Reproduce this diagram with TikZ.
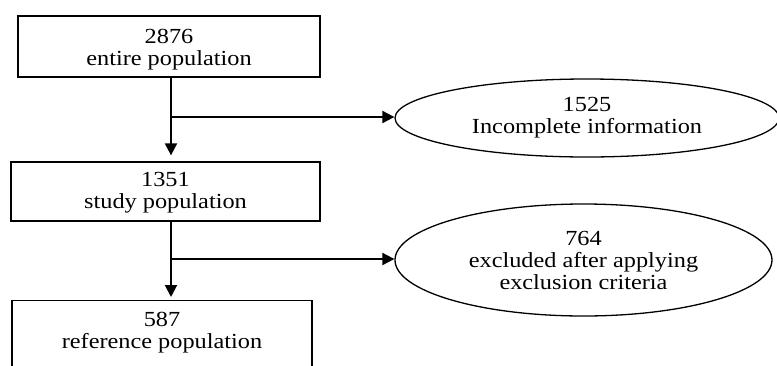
\documentclass[tikz,border=0pt]{standalone}
\usepackage{fontspec}
\setmainfont{Liberation Serif}[FakeStretch=1.13]
\usetikzlibrary{arrows.meta,shapes.geometric}
\begin{document}
\begin{tikzpicture}[x=1pt,y=-1pt,
  every node/.style={font=\fontsize{21.5pt}{22pt}\selectfont, align=center},
  boxnode/.style={draw, line width=1.3pt, rectangle, inner sep=0pt},
  ellnode/.style={draw, line width=1.3pt, ellipse, inner sep=0pt},
  flowarr/.style={line width=2pt, -{Triangle[length=12pt,width=12pt]}}]
\useasboundingbox (0,0) rectangle (777,365);
\clip (0,0) rectangle (777,365);
\node[boxnode, minimum width=302pt, minimum height=61pt, text height=42pt] (b1) at (169,46.5) {2876\\entire population};
\node[boxnode, minimum width=309pt, minimum height=59pt, text height=39pt] (b2) at (165.5,191.5) {1351\\study population};
\node[boxnode, minimum width=300pt, anchor=north, inner ysep=12pt, text depth=30pt] (b3) at (162,300) {587\\reference population};
\node[ellnode, minimum width=384pt, minimum height=78pt] (e1) at (587,118) {1525\\Incomplete information};
\node[ellnode, minimum width=377pt, minimum height=112pt] (e2) at (583.5,260) {764\\excluded after applying\\exclusion criteria};
\coordinate (j1) at (171,117);
\coordinate (j2) at (171,259);
\draw[flowarr, shorten >=6pt] (j1 |- b1.south) -- (j1 |- b2.north);
\draw[flowarr] (j1) -- (j1 -| e1.west);
\draw[flowarr, shorten >=3pt] (j2 |- b2.south) -- (j2 |- b3.north);
\draw[flowarr] (j2) -- (j2 -| e2.west);
\end{tikzpicture}
\end{document}
